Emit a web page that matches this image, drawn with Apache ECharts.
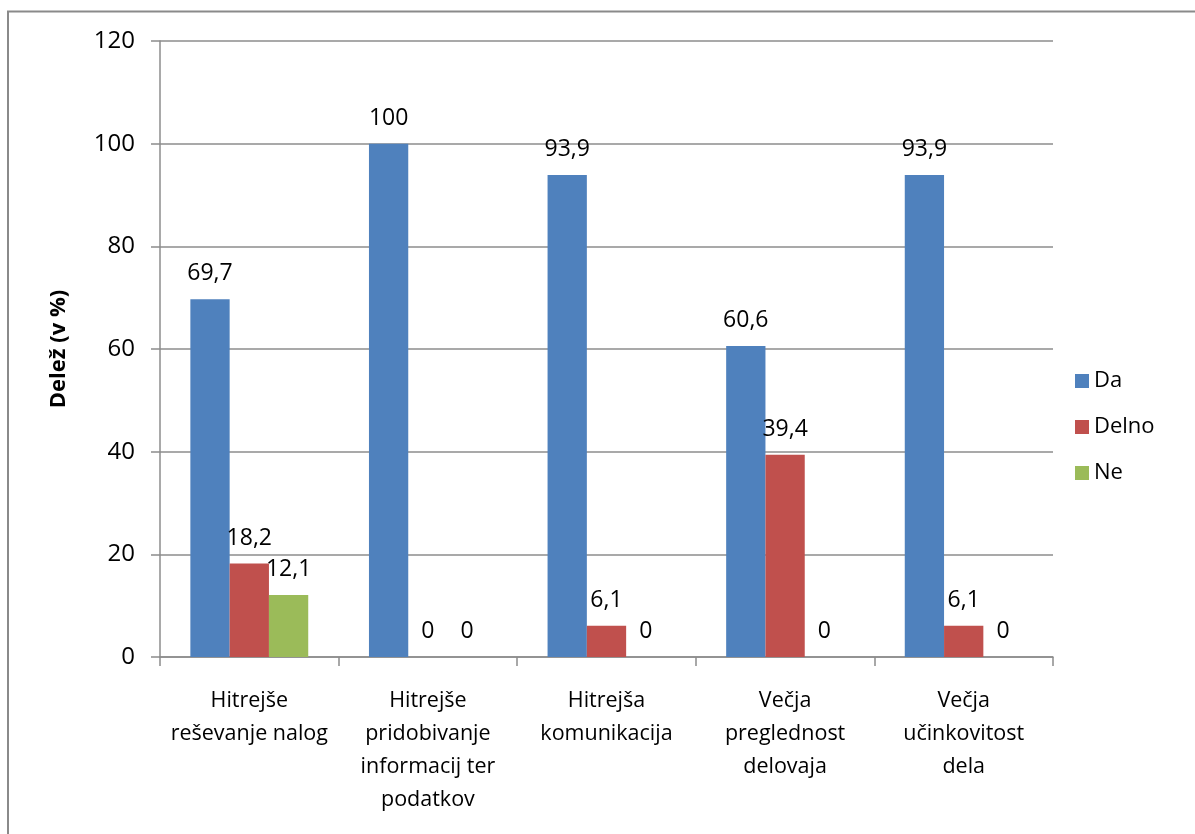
<!DOCTYPE html>
<html>
<head>
<meta charset="utf-8">
<script src="https://cdn.jsdelivr.net/npm/echarts@6/dist/echarts.min.js"></script>
<style>
  html, body { margin: 0; padding: 0; background: #fff; }
  #chart { width: 1195px; height: 834px; }
</style>
</head>
<body>
<div id="chart"></div>
<script>
// Categories and shares (in %) per answer
const categories = [
  'Hitrejše\nreševanje nalog',
  'Hitrejše\npridobivanje\ninformacij ter\npodatkov',
  'Hitrejša\nkomunikacija',
  'Večja\npreglednost\ndelovaja',
  'Večja\nučinkovitost\ndela'
];
const da = [69.7, 100, 93.9, 60.6, 93.9];
const delno = [18.2, 0, 6.1, 39.4, 6.1];
const ne = [12.1, 0, 0, 0, 0];
const yTicks = { min: 0, max: 120, interval: 20 };

const FONT = '"Open Sans", "Noto Sans", sans-serif';
const comma = v => String(v).replace('.', ',');

function barSeries(name, data, color) {
  return {
    name, type: 'bar', data,
    barGap: '0%', barCategoryGap: '34%',
    itemStyle: { color },
    label: {
      show: true, position: 'top', distance: 14,
      color: '#000', fontFamily: FONT, fontSize: 23,
      formatter: p => comma(p.value)
    }
  };
}

const chart = echarts.init(document.getElementById('chart'));
chart.setOption({
  animation: false,
  backgroundColor: '#fff',
  grid: { left: 160, top: 41, right: 142, bottom: 177 },
  legend: {
    orient: 'vertical', left: 1070, top: 365,
    itemWidth: 14, itemHeight: 14, itemGap: 24,
    icon: 'rect',
    textStyle: { fontFamily: FONT, fontSize: 22, color: '#000' },
    data: ['Da', 'Delno', 'Ne']
  },
  xAxis: {
    type: 'category', data: categories,
    axisLine: { lineStyle: { color: '#8c8c8c', width: 1.5 } },
    axisTick: { show: true, length: 9, lineStyle: { color: '#8c8c8c', width: 1.5 } },
    axisLabel: {
      interval: 0, margin: 27, color: '#000',
      fontFamily: FONT, fontSize: 21.5, lineHeight: 33, align: 'center'
    }
  },
  yAxis: {
    type: 'value', min: yTicks.min, max: yTicks.max, interval: yTicks.interval,
    name: 'Delež (v %)', nameLocation: 'middle', nameGap: 90, nameRotate: 90,
    nameTextStyle: { fontFamily: FONT, fontSize: 22, fontWeight: 'bold', color: '#000' },
    axisLine: { show: true, lineStyle: { color: '#8c8c8c', width: 1.5 } },
    axisTick: { show: true, length: 9, lineStyle: { color: '#8c8c8c', width: 1.5 } },
    axisLabel: { margin: 25, color: '#000', fontFamily: FONT, fontSize: 24 },
    splitLine: { lineStyle: { color: '#8c8c8c', width: 1.5 } }
  },
  graphic: [{
    type: 'polyline',
    shape: { points: [[8, 834], [8, 11.5], [1195, 11.5]] },
    style: { stroke: '#8a8a8a', lineWidth: 2, fill: null }
  }],
  series: [
    barSeries('Da', da, '#4F81BD'),
    barSeries('Delno', delno, '#C0504D'),
    barSeries('Ne', ne, '#9BBB59')
  ]
});
</script>
</body>
</html>
